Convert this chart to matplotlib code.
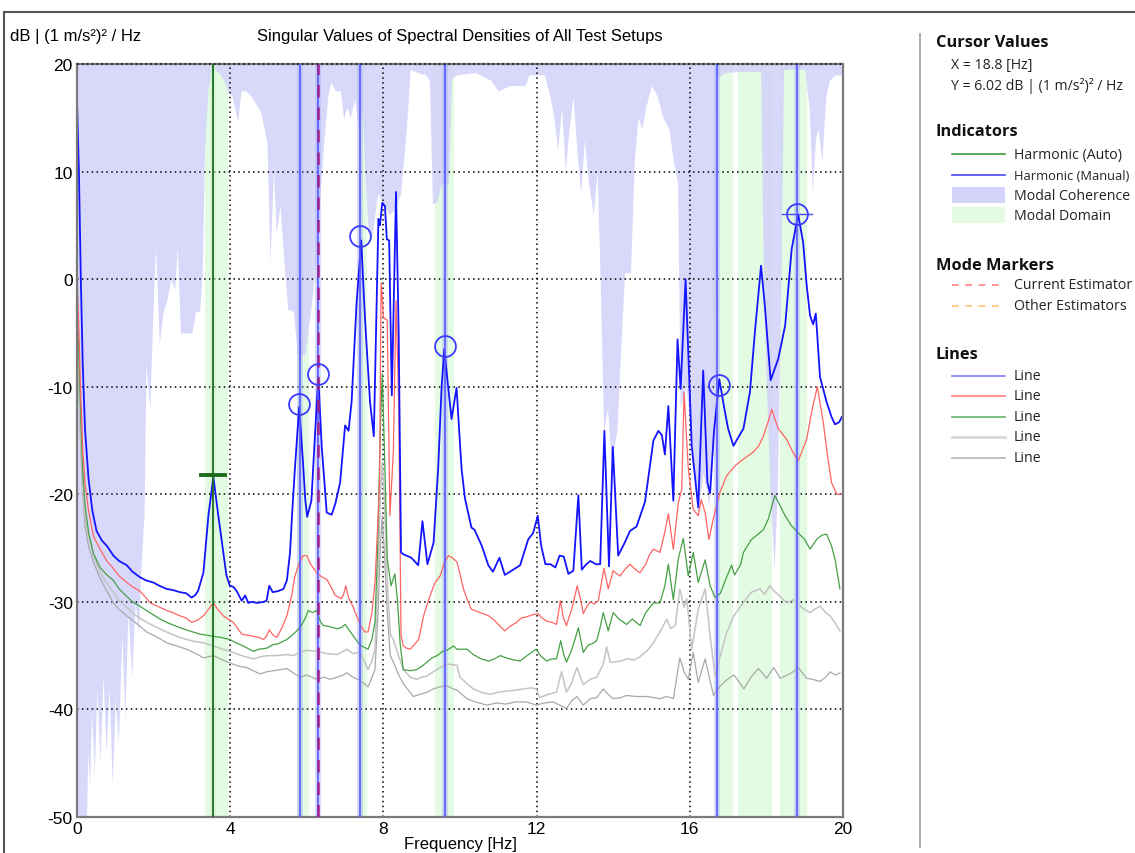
import matplotlib
matplotlib.use("Agg")
import matplotlib.pyplot as plt
from matplotlib.lines import Line2D
from matplotlib.patches import Rectangle
from matplotlib import font_manager

# ---------------- data ----------------
blue_f = [0.0, 0.05, 0.1, 0.15, 0.21, 0.3, 0.4, 0.51, 0.65, 0.78, 0.95, 1.1, 1.3, 1.45, 1.64, 1.8, 1.99, 2.15, 2.34, 2.5,
          2.69, 2.85, 2.99, 3.08, 3.16, 3.3, 3.43, 3.56, 3.69, 3.82, 3.9, 3.99, 4.08, 4.17, 4.3, 4.39, 4.47, 4.56, 4.7, 4.87,
          4.95, 5.02, 5.11, 5.25, 5.39, 5.48, 5.56, 5.63, 5.69, 5.8, 5.9, 5.96, 6.01, 6.12, 6.21, 6.3, 6.39, 6.52, 6.65, 6.75,
          6.87, 7.0, 7.09, 7.17, 7.3, 7.42, 7.52, 7.65, 7.75, 7.8, 7.87, 7.91, 7.97, 8.04, 8.09, 8.15, 8.22, 8.33, 8.4, 8.46,
          8.53, 8.6, 8.73, 8.91, 9.02, 9.15, 9.31, 9.43, 9.52, 9.59, 9.69, 9.78, 9.91, 10.04, 10.13, 10.3, 10.38, 10.57, 10.74, 10.86,
          10.95, 11.03, 11.17, 11.35, 11.57, 11.78, 11.91, 12.03, 12.12, 12.23, 12.36, 12.49, 12.6, 12.71, 12.83, 12.96, 13.09, 13.18, 13.3, 13.4,
          13.55, 13.66, 13.77, 13.89, 13.99, 14.13, 14.3, 14.44, 14.61, 14.83, 15.05, 15.18, 15.27, 15.35, 15.44, 15.57, 15.68, 15.76, 15.89, 16.05,
          16.22, 16.35, 16.46, 16.53, 16.63, 16.77, 16.9, 17.0, 17.14, 17.25, 17.4, 17.57, 17.7, 17.86, 17.96, 18.11, 18.2, 18.31, 18.49, 18.66,
          18.83, 18.96, 19.05, 19.14, 19.22, 19.29, 19.4, 19.57, 19.7, 19.79, 19.9, 19.97]
blue_v = [16.5, 10, 0, -8, -14, -18.5, -21.5, -23.4, -24.3, -24.8, -25.7, -26.2, -26.6, -27.2, -27.7, -28, -28.2, -28.5, -28.8, -28.9,
          -29.1, -29.2, -29.6, -29.4, -29.0, -27.3, -22.0, -18.4, -22, -25.4, -27.5, -28.5, -28.6, -29, -29.9, -29.4, -30.1, -30.0, -30.1, -30.0,
          -29.9, -28.5, -29.1, -29.0, -28.8, -28, -25.5, -21, -17.6, -11.9, -17, -20.5, -22.1, -20.6, -14.7, -9.1, -15.6, -21.7, -21.9, -20.8,
          -18.9, -13.6, -14.1, -11.4, -2.2, 3.6, -3.7, -11.4, -14.6, -6, 5.6, 5.0, 7.1, 6.8, 3.7, 3.6, -10.8, 8.1, -5.3, -25.4,
          -25.6, -25.7, -25.9, -26.6, -22.5, -26.5, -24.5, -17.6, -10, -6.5, -10, -13, -10.1, -17.6, -20.4, -23.1, -23.3, -24.8, -26.6, -27.2,
          -26.5, -25.9, -27.5, -27.1, -26.6, -24.2, -23.6, -22, -24.8, -26.5, -26.5, -26.8, -25.7, -25.8, -27.4, -27.1, -20.1, -27, -26.5, -26.2,
          -26.5, -26.5, -14.1, -26.7, -15.6, -25.7, -24.5, -23.4, -23, -20.7, -15, -14.1, -14.5, -16.3, -11.8, -20.6, -5.6, -10.2, 0, -15.5,
          -21.2, -8.5, -18.9, -19.9, -14.2, -9.3, -12, -13.9, -15.5, -14.8, -13.9, -10.5, -4.9, 1.25, -2.5, -9.4, -8.5, -7.4, -4.3, 2.8,
          6.0, 3.4, -0.5, -3.4, -4.2, -3.2, -9.1, -11.4, -12.8, -13.5, -13.3, -12.8]

red_f = [0.0, 0.05, 0.1, 0.15, 0.21, 0.3, 0.43, 0.6, 0.78, 0.95, 1.1, 1.3, 1.45, 1.64, 1.8, 1.91, 2.1, 2.34, 2.5, 2.69,
         2.85, 2.99, 3.15, 3.3, 3.45, 3.56, 3.7, 3.82, 3.95, 4.08, 4.2, 4.3, 4.45, 4.6, 4.75, 4.87, 4.95, 5.02, 5.12, 5.22,
         5.35, 5.48, 5.6, 5.69, 5.8, 5.91, 6.0, 6.1, 6.26, 6.4, 6.52, 6.63, 6.74, 6.9, 6.96, 7.02, 7.08, 7.13, 7.2, 7.3,
         7.42, 7.52, 7.6, 7.7, 7.78, 7.85, 7.9, 7.94, 8.0, 8.04, 8.1, 8.17, 8.26, 8.33, 8.4, 8.46, 8.52, 8.6, 8.7, 8.8,
         8.92, 9.05, 9.22, 9.35, 9.48, 9.6, 9.7, 9.8, 9.92, 10.0, 10.09, 10.2, 10.3, 10.45, 10.61, 10.75, 10.86, 11.0, 11.17, 11.3,
         11.48, 11.6, 11.73, 11.9, 12.03, 12.15, 12.26, 12.4, 12.52, 12.62, 12.7, 12.78, 12.94, 13.06, 13.15, 13.22, 13.3, 13.4, 13.5, 13.61,
         13.68, 13.76, 13.87, 14.0, 14.1, 14.18, 14.3, 14.44, 14.55, 14.7, 14.85, 14.95, 15.05, 15.22, 15.35, 15.44, 15.57, 15.7, 15.79, 15.85,
         15.96, 16.09, 16.22, 16.3, 16.4, 16.5, 16.6, 16.7, 16.79, 16.96, 17.05, 17.2, 17.3, 17.45, 17.65, 17.8, 17.92, 18.05, 18.14, 18.22,
         18.31, 18.42, 18.53, 18.68, 18.83, 18.95, 19.05, 19.2, 19.33, 19.48, 19.6, 19.7, 19.84, 19.97]
red_v = [0.5, -5, -11, -16, -19, -21.5, -23.9, -25.1, -26.2, -26.9, -27.6, -28.2, -28.6, -29.0, -29.6, -30.1, -30.4, -30.8, -31.0, -31.3,
         -31.5, -31.9, -31.7, -31.3, -30.6, -30.1, -30.8, -31.3, -31.6, -31.9, -32.5, -33.0, -33.1, -33.2, -33.3, -33.5, -33.2, -32.6, -33.1, -33.3,
         -32.4, -31.3, -29.5, -27.6, -26.4, -25.7, -25.7, -26.5, -27.3, -27.7, -27.9, -28.6, -29.4, -29.7, -29.3, -28.5, -29.5, -29.9, -30.4, -31.3,
         -32.3, -32.8, -32.8, -31, -28.2, -23, -18.9, -0.3, -3.5, -3.7, -3.8, -22, -16, -2.0, -11.5, -33.1, -34.1, -34.3, -34.4, -34.0,
         -33.5, -31.3, -29.4, -28.2, -27.6, -26.3, -25.7, -25.9, -26.3, -27.4, -28.8, -29.9, -30.7, -30.9, -31.1, -31.3, -31.6, -32.1, -32.7, -32.3,
         -31.9, -31.5, -31.4, -31.2, -31.1, -31.5, -31.8, -31.9, -32.1, -29.9, -31.5, -32.2, -30.4, -28.5, -29.8, -31.1, -30.5, -30.0, -30.2, -29.9,
         -28.5, -26.9, -28.8, -27.1, -27.4, -27.6, -27.0, -26.5, -26.9, -27.3, -26.5, -25.6, -25.1, -25.4, -23.5, -21.8, -25.1, -20.8, -19.5, -10.5,
         -17.6, -21.4, -22, -20.5, -21.7, -24.2, -22.5, -21.0, -19.8, -18.3, -17.9, -17.3, -17, -16.6, -16.1, -15.5, -14.6, -13.2, -12.1, -13,
         -13.9, -14.4, -14.9, -16, -16.9, -15.8, -14.9, -12, -10, -13.2, -16.5, -18.9, -20, -20]

green_f = [0.0, 0.05, 0.1, 0.15, 0.21, 0.3, 0.43, 0.6, 0.78, 0.95, 1.1, 1.3, 1.45, 1.64, 1.9, 2.17, 2.4, 2.69, 2.85, 3.03,
           3.2, 3.4, 3.56, 3.75, 3.99, 4.15, 4.34, 4.5, 4.6, 4.75, 4.96, 5.1, 5.25, 5.48, 5.65, 5.82, 5.95, 6.04, 6.15, 6.26,
           6.35, 6.43, 6.6, 6.79, 6.9, 7.0, 7.1, 7.22, 7.32, 7.43, 7.6, 7.7, 7.78, 7.85, 7.92, 7.97, 8.02, 8.1, 8.2, 8.3,
           8.37, 8.44, 8.52, 8.7, 8.87, 9.0, 9.14, 9.27, 9.4, 9.55, 9.66, 9.83, 9.92, 10.05, 10.18, 10.35, 10.55, 10.74, 10.9, 11.05,
           11.2, 11.4, 11.57, 11.75, 11.99, 12.1, 12.26, 12.4, 12.52, 12.63, 12.7, 12.78, 12.9, 13.0, 13.09, 13.22, 13.35, 13.45, 13.57, 13.65,
           13.74, 13.87, 14.0, 14.15, 14.35, 14.5, 14.7, 14.85, 15.05, 15.22, 15.35, 15.44, 15.57, 15.7, 15.83, 15.96, 16.09, 16.22, 16.4, 16.53,
           16.66, 16.8, 16.95, 17.09, 17.17, 17.33, 17.4, 17.61, 17.75, 17.92, 18.05, 18.22, 18.35, 18.49, 18.65, 18.83, 19.0, 19.14, 19.31, 19.45,
           19.57, 19.7, 19.79, 19.92]
green_v = [-2, -7, -13, -18, -21, -23.5, -25.5, -26.8, -27.5, -28.0, -28.8, -29.5, -30.0, -30.4, -31.0, -31.6, -32.0, -32.4, -32.6, -32.8,
           -33.0, -33.1, -33.2, -33.3, -33.5, -33.8, -34.1, -34.4, -34.6, -34.4, -34.3, -34.0, -33.9, -33.5, -33.0, -32.4, -31.6, -30.8, -31.0, -30.8,
           -31.8, -32.2, -32.3, -32.5, -32.4, -32.1, -32.6, -33.2, -33.7, -34.1, -34.4, -33.5, -31.9, -25, -14, -8.8, -15, -26, -28.5, -27.4,
           -30, -34, -36.3, -36.4, -36.3, -36.0, -35.6, -35.2, -35.0, -34.6, -34.5, -34.1, -34.4, -34.4, -34.4, -34.9, -35.3, -35.5, -35.3, -35.0,
           -35.2, -35.4, -35.5, -35.0, -34.4, -35.0, -35.5, -35.3, -35.3, -33.6, -34.8, -35.6, -34.6, -33.5, -32.4, -34.7, -34.0, -33.9, -33.6, -32.5,
           -31, -32.7, -31, -31.6, -32.1, -31.6, -32.2, -31.0, -30.1, -30.1, -28.5, -26.5, -29.8, -26, -24.1, -27.6, -25.4, -28.2, -26.1, -28.5,
           -29.6, -29.2, -27.8, -26.6, -27.5, -26.5, -25.4, -24.2, -23.8, -23.3, -22.3, -20.1, -21, -22.0, -22.9, -23.6, -24.2, -25.1, -24.2, -23.8,
           -23.7, -24.8, -26, -28.8]

grey1_f = [0.0, 0.05, 0.1, 0.15, 0.21, 0.3, 0.43, 0.6, 0.78, 0.95, 1.1, 1.3, 1.5, 1.82, 2.1, 2.34, 2.6, 2.86, 3.1, 3.3,
           3.56, 3.8, 4.08, 4.3, 4.6, 4.8, 4.96, 5.2, 5.48, 5.65, 5.82, 6.0, 6.26, 6.5, 6.79, 6.95, 7.05, 7.2, 7.39, 7.5,
           7.6, 7.7, 7.78, 7.86, 7.92, 7.97, 8.02, 8.1, 8.18, 8.26, 8.35, 8.52, 8.7, 8.87, 9.0, 9.14, 9.3, 9.48, 9.66, 9.74,
           9.92, 10.0, 10.18, 10.35, 10.55, 10.78, 11.0, 11.2, 11.45, 11.65, 11.85, 11.99, 12.08, 12.3, 12.52, 12.65, 12.78, 12.92, 13.05, 13.22,
           13.4, 13.57, 13.74, 13.83, 13.92, 14.0, 14.2, 14.35, 14.55, 14.7, 14.9, 15.05, 15.25, 15.4, 15.5, 15.62, 15.74, 15.85, 15.92, 16.05,
           16.22, 16.4, 16.53, 16.66, 16.8, 16.95, 17.15, 17.33, 17.5, 17.61, 17.83, 17.95, 18.09, 18.2, 18.36, 18.53, 18.7, 18.8, 18.95, 19.14,
           19.25, 19.4, 19.55, 19.66, 19.8, 19.92]
grey1_v = [-4, -9, -15, -19.5, -22, -24, -25.7, -27.2, -28.3, -29.1, -29.9, -30.5, -31.2, -31.9, -32.4, -32.8, -33.2, -33.5, -33.7, -33.8,
           -34.1, -34.4, -34.7, -35.0, -35.3, -35.1, -35.0, -35.0, -34.9, -35.0, -34.7, -34.5, -34.6, -34.8, -34.9, -34.6, -34.4, -34.8, -34.7, -35.5,
           -36.3, -35.5, -34.4, -28, -20, -17, -20, -28, -33, -33.5, -34.5, -36.3, -37.0, -37.2, -37.0, -36.9, -36.5, -36.1, -35.8, -35.8,
           -35.9, -37.0, -37.6, -38.1, -38.4, -38.6, -38.4, -38.3, -38.2, -38.1, -38.0, -38.1, -38.9, -38.6, -38.4, -36.5, -38.4, -37.5, -36.1, -37.7,
           -37.2, -37.0, -35.8, -34.2, -35.6, -35.6, -35.5, -35.3, -35.4, -35.1, -34.5, -33.8, -32.6, -31.6, -32.5, -32.2, -28.8, -30.5, -29.7, -34.4,
           -30.7, -28.8, -33.1, -36.9, -35.0, -33, -31.3, -30.4, -29.6, -29.1, -28.8, -29.3, -28.5, -29.0, -29.5, -30.1, -29.8, -30.1, -30.6, -31.0,
           -30.7, -30.4, -31.0, -31.3, -32.0, -32.7]

grey2_f = [0.0, 0.05, 0.1, 0.15, 0.21, 0.3, 0.43, 0.6, 0.78, 0.95, 1.1, 1.3, 1.55, 1.82, 2.1, 2.34, 2.6, 2.86, 3.1, 3.3,
           3.56, 3.8, 4.08, 4.25, 4.43, 4.6, 4.78, 4.95, 5.13, 5.3, 5.48, 5.65, 5.82, 6.0, 6.26, 6.45, 6.61, 6.8, 6.95, 7.05,
           7.2, 7.39, 7.5, 7.6, 7.7, 7.78, 7.86, 7.92, 7.97, 8.02, 8.1, 8.18, 8.26, 8.4, 8.52, 8.65, 8.78, 8.95, 9.14, 9.3,
           9.48, 9.65, 9.83, 9.92, 10.05, 10.18, 10.4, 10.7, 10.95, 11.2, 11.45, 11.73, 11.99, 12.2, 12.43, 12.6, 12.78, 12.92, 13.05, 13.22,
           13.4, 13.57, 13.74, 13.87, 14.0, 14.2, 14.35, 14.6, 14.87, 15.05, 15.22, 15.4, 15.57, 15.74, 15.85, 15.96, 16.09, 16.22, 16.4, 16.62,
           16.8, 16.95, 17.15, 17.3, 17.41, 17.6, 17.79, 18.01, 18.19, 18.36, 18.55, 18.7, 18.83, 19.05, 19.2, 19.4, 19.55, 19.66, 19.8, 19.92]
grey2_v = [-5, -10, -16, -20, -23, -24.8, -26.3, -27.8, -29.0, -30.1, -30.7, -31.3, -32.0, -32.8, -33.3, -33.8, -34.1, -34.4, -34.8, -35.2,
           -35.0, -35.4, -35.8, -36.0, -36.1, -36.4, -36.7, -36.5, -36.4, -36.3, -36.2, -36.6, -37.0, -36.8, -37.2, -37.0, -37.2, -37.0, -36.8, -36.6,
           -37.0, -37.3, -37.6, -37.9, -37.0, -36.3, -31, -25, -22, -25, -31, -35, -35.6, -36.8, -37.6, -38.2, -38.8, -38.6, -38.4, -38.1,
           -37.9, -37.8, -38.1, -38.2, -38.6, -39.0, -39.3, -39.6, -39.4, -39.5, -39.3, -39.3, -39.6, -39.4, -39.3, -39.6, -39.9, -39.2, -38.8, -39.6,
           -39.0, -38.9, -38.1, -38.6, -39.0, -38.9, -38.7, -38.8, -38.8, -38.9, -39.0, -38.8, -39.0, -35.2, -36.5, -37.2, -34.7, -37.5, -35.3, -38.7,
           -37.8, -37.3, -36.8, -37.5, -38.1, -37.0, -36.2, -37.1, -36.1, -37.1, -36.8, -36.5, -36.1, -37.1, -37.2, -37.4, -37.0, -36.5, -36.8, -36.6]

# modal coherence: lower edge of the shaded band (band reaches up to the top of the plot)
coh_f = [0, 0.25, 0.28, 0.33, 0.38, 0.45, 0.52, 0.6, 0.68, 0.76, 0.84, 0.92, 1.0, 1.08, 1.17, 1.25, 1.33, 1.43, 1.52, 1.6,
         1.68, 1.75, 1.8, 1.9, 2.0, 2.05, 2.15, 2.25, 2.34, 2.45, 2.55, 2.62, 2.7, 2.85, 3.0, 3.1, 3.2, 3.27, 3.33, 3.42,
         3.5, 3.6, 3.75, 3.85, 3.95, 4.05, 4.2, 4.28, 4.4, 4.55, 4.7, 4.8, 4.96, 5.04, 5.13, 5.2, 5.3, 5.4, 5.5, 5.65,
         5.75, 5.95, 6.1, 6.25, 6.35, 6.45, 6.55, 6.62, 6.75, 6.88, 6.96, 7.05, 7.13, 7.25, 7.35, 7.45, 7.52, 7.6, 7.7, 7.85,
         8.0, 8.15, 8.3, 8.45, 8.6, 8.7, 8.9, 9.1, 9.2, 9.28, 9.4, 9.5, 9.7, 9.78, 9.9, 10.4, 10.8, 11.0, 11.3, 11.7,
         11.8, 12.2, 12.35, 12.45, 12.55, 12.65, 12.75, 12.85, 12.95, 13.05, 13.15, 13.25, 13.35, 13.48, 13.58, 13.66, 13.75, 13.85, 13.95, 14.1,
         14.2, 14.3, 14.45, 14.55, 14.65, 14.75, 14.85, 15.0, 15.15, 15.3, 15.45, 15.57, 15.68, 15.75, 15.9, 16.05, 16.2, 16.35, 16.5, 16.62,
         16.7, 16.9, 17.3, 17.85, 17.92, 18.0, 18.1, 18.2, 18.28, 18.36, 18.45, 19.0, 19.12, 19.2, 19.28, 19.35, 19.45, 19.55, 19.65, 19.8, 20]
coh_lo = [-50, -50, -44, -47, -40, -46, -38, -45, -37, -44, -38, -47, -39, -43, -33, -41, -31, -37, -30, -33,
          -26, -22, -8, -12, -1, 3, -6, -3, -2, 0, -1, 3, -5, -5, -5, -3, -3, 0.6, 12, 17.7,
          19, 19.5, 19, 18.3, 17.4, 17, 14.6, 17.5, 17.5, 17, 16.1, 15.5, 12.7, 1.5, 10.2, 4.3, 6.8, 1.8, -2.8, -3,
          -7, -7, -3, 2, 8, 13, 17, 18.3, 17.5, 17.5, 14.9, 16, 15, 16.7, 14.2, 15.8, 9.6, 4.3, 4, 8,
          7, 6, 6.5, 8, 14, 19.5, 19.2, 19, 18.5, 7, 7.2, 8.7, 9, 18.6, 19, 19.2, 18.5, 17.5, 18, 18,
          19, 19, 17, 15, 12, 16, 10, 14, 17, 12, 8, 13, 9, 6, 10, 0, -14, -12, -17, -14,
          -6, 0.6, 0.6, 11, 15, 14, 16, 18, 17, 15, 14, 11, 9, -12, -10, -15, -22, -18, -21, -15,
          18.6, 19.2, 19.3, 19.3, 0, -10, -20, -27, -20, -5, 19.5, 19.5, 15.8, 8, 13, 14, 11, 17, 18.5, 19, 19]

# modal domain bands (start, end) in Hz
domain_bands = [(3.35, 3.95), (5.75, 6.05), (7.35, 7.58), (9.35, 9.85), (16.7, 17.14), (17.25, 18.15), (18.36, 19.07)]

harmonic_auto = [3.55]
harmonic_manual = [5.83, 6.3, 7.4, 9.6, 16.71, 18.8]
current_estimator = [6.3]

peak_f = [5.8, 6.3, 7.4, 9.6, 16.75, 18.8]
peak_v = [-11.6, -8.8, 4.0, -6.2, -9.8, 6.02]
auto_peak = (3.55, -18.2)
cursor = (18.8, 6.02)

x_ticks = [0, 4, 8, 12, 16, 20]
y_ticks = [20, 10, 0, -10, -20, -30, -40, -50]

# ---------------- fonts ----------------
entries = font_manager.fontManager.ttflist
names = {f.name for f in entries}
axfont = 'Liberation Sans Narrow' if 'Liberation Sans Narrow' in names else 'Liberation Sans'


def has_bold(fam):
    for f in entries:
        if f.name == fam:
            w = f.weight
            if isinstance(w, str):
                if w.lower() in ('bold', 'semibold', 'demibold', 'heavy', 'black', 'extra bold'):
                    return True
            elif w >= 600:
                return True
    return False


uifont = 'DejaVu Sans'
for cand in ['Open Sans', 'Noto Sans', 'Lato', 'Roboto', 'Inter']:
    if cand in names:
        uifont = cand
        break
boldfont = 'DejaVu Sans'
for cand in ['Open Sans', 'Noto Sans', 'Lato', 'Roboto', 'Inter', 'Liberation Sans']:
    if cand in names and has_bold(cand):
        boldfont = cand
        break

W, H = 1135, 854
fig = plt.figure(figsize=(W / 100, H / 100), dpi=100)
fig.patch.set_facecolor('white')


def fx(px):
    return px / W


def fy(py):
    return 1 - py / H


ax = fig.add_axes([fx(77), fy(818), (843 - 77) / W, (818 - 65) / H])
ax.set_xlim(0, 20)
ax.set_ylim(-50, 20)

lav = '#d4d4fa'
dom = '#e2fbe2'

for a, b in domain_bands:
    ax.axvspan(a, b, color=dom, lw=0, zorder=0.5)
ax.fill_between(coh_f, coh_lo, 20, color=lav, lw=0, alpha=0.9, zorder=0.6)

# grid
for xv in x_ticks[1:-1]:
    ax.axvline(xv, color='black', lw=1.1, ls=(0, (1, 2.2)), zorder=1)
for yv in y_ticks[1:-1]:
    ax.axhline(yv, color='black', lw=1.1, ls=(0, (1, 2.2)), zorder=1)

# indicator lines
for h in harmonic_manual:
    ax.axvline(h, color='#a8b2ff', lw=4, alpha=0.55, zorder=1.5)
    ax.axvline(h, color='#5a5aff', lw=1.2, zorder=3)
for h in harmonic_auto:
    ax.axvline(h, color='#d0f5d0', lw=4, alpha=0.6, zorder=1.5)
    ax.axvline(h, color='#1d6b1d', lw=1.3, zorder=3)
for h in current_estimator:
    ax.axvline(h, color='#a0208c', lw=1.8, ls=(0, (5, 4)), zorder=3.2)

# lines
ax.plot(grey2_f, grey2_v, color='#a9a9a9', lw=0.9, zorder=2)
ax.plot(grey1_f, grey1_v, color='#c4c4c4', lw=1.1, zorder=2.05)
ax.plot(green_f, green_v, color='#45a045', lw=0.9, zorder=2.1)
ax.plot(red_f, red_v, color='#ff6464', lw=0.9, zorder=2.2)
ax.plot(blue_f, blue_v, color='#1414ff', lw=1.3, zorder=2.3)

# markers
ax.plot(peak_f, peak_v, ls='none', marker='o', ms=15, mfc='none', mec='#3a3aff', mew=1.3, zorder=4)
ax.plot([auto_peak[0] - 0.32, auto_peak[0] + 0.32], [auto_peak[1]] * 2, color='#1d6b1d', lw=2.8, zorder=4)
ax.plot([cursor[0] - 0.38, cursor[0] + 0.38], [cursor[1]] * 2, color='#4a4aff', lw=1.0, zorder=4)

for s in ax.spines.values():
    s.set_color('#7a7a7a')
    s.set_linewidth(1.6)
ax.axhline(20, color='black', lw=1.1, ls=(0, (1, 2.2)), zorder=5, clip_on=False)

ax.set_xticks(x_ticks)
ax.set_yticks(y_ticks)
ax.set_xticklabels([str(v) for v in x_ticks], fontfamily=axfont, fontsize=12.5)
ax.set_yticklabels([str(v) for v in y_ticks], fontfamily=axfont, fontsize=12.5)
ax.tick_params(length=0, pad=3)

fig.text(fx(460), fy(845), 'Frequency [Hz]', ha='center', va='center', fontfamily=axfont, fontsize=12)
fig.text(fx(10), fy(37), 'dB | (1 m/s²)² / Hz', ha='left', va='center', fontfamily=axfont, fontsize=12)
fig.text(fx(460), fy(37), 'Singular Values of Spectral Densities of All Test Setups', ha='center', va='center',
         fontfamily=axfont, fontsize=12)

# frame lines
fig.add_artist(Line2D([fx(4), fx(1135)], [fy(13), fy(13)], color='#555555', lw=1.5, transform=fig.transFigure))
fig.add_artist(Line2D([fx(4), fx(4)], [fy(13), fy(854)], color='#555555', lw=1.5, transform=fig.transFigure))
fig.add_artist(Line2D([fx(920), fx(920)], [fy(35), fy(848)], color='#a0a0a0', lw=1.2, transform=fig.transFigure))

# legend panel
ITEM_FS = 10.2


def head(py, s):
    fig.text(fx(936), fy(py), s, ha='left', va='center', fontfamily=boldfont, fontweight='bold', fontsize=11.8,
             color='#111111')


def item(py, s, fs=ITEM_FS):
    fig.text(fx(1014), fy(py), s, ha='left', va='center', fontfamily=uifont, fontsize=fs, color='#222222')


def sample_line(py, color, lw=1.2, ls='-'):
    fig.add_artist(Line2D([fx(952), fx(1005)], [fy(py), fy(py)], color=color, lw=lw, ls=ls, transform=fig.transFigure))


def sample_patch(py, color):
    fig.add_artist(Rectangle((fx(952), fy(py + 8)), (1005 - 952) / W, 16 / H, color=color, lw=0,
                             transform=fig.transFigure))


head(43, 'Cursor Values')
fig.text(fx(951), fy(66), 'X = 18.8 [Hz]', ha='left', va='center', fontfamily=uifont, fontsize=ITEM_FS, color='#222222')
fig.text(fx(951), fy(86), 'Y = 6.02 dB | (1 m/s²)² / Hz', ha='left', va='center', fontfamily=uifont, fontsize=ITEM_FS,
         color='#222222')

head(132, 'Indicators')
sample_line(155, '#3c9a3c')
item(155, 'Harmonic (Auto)')
sample_line(176, '#4a4aff')
item(176, 'Harmonic (Manual)', fs=9.3)
sample_patch(196, lav)
item(196, 'Modal Coherence')
sample_patch(216, dom)
item(216, 'Modal Domain')

head(266, 'Mode Markers')
sample_line(286, '#ff8080', ls=(0, (4, 4)))
item(286, 'Current Estimator')
sample_line(307, '#ffc070', ls=(0, (4, 4)))
item(307, 'Other Estimators')

head(355, 'Lines')
sample_line(377, '#8080ff')
item(377, 'Line')
sample_line(397, '#ff8080')
item(397, 'Line')
sample_line(418, '#66b366')
item(418, 'Line')
sample_line(438, '#d8d8d8', lw=2)
item(438, 'Line')
sample_line(459, '#b4b4b4')
item(459, 'Line')

fig.savefig('out.png', dpi=100)
